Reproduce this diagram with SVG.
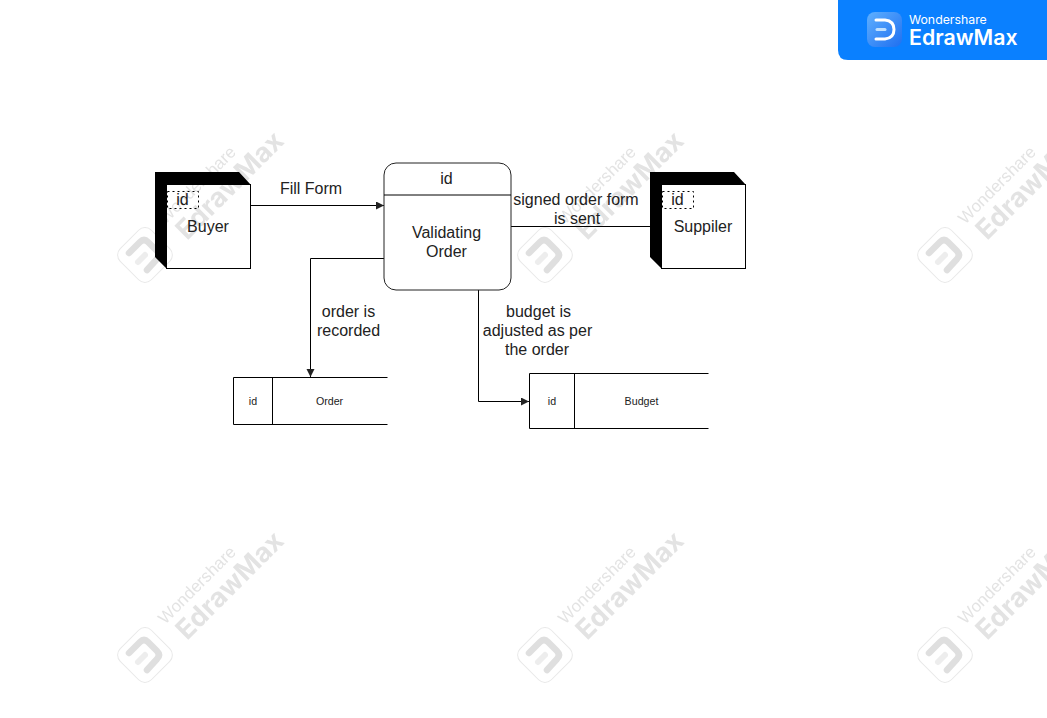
<svg xmlns="http://www.w3.org/2000/svg" width="1047" height="718" viewBox="0 0 1047 718">
<style>
text{font-family:"Liberation Sans",Arial,sans-serif;fill:#222;text-anchor:middle}
.t16{font-size:16px}
.t10{font-size:10.67px}
.wm{fill:#bdbdbd;text-anchor:start}
.line{fill:none;stroke:#000;stroke-width:1}
.box{fill:#fff;stroke:#000;stroke-width:1}
.dash{fill:none;stroke:#000;stroke-width:1;stroke-dasharray:2 3}
#watermarks{mix-blend-mode:multiply}
</style>
<defs>
<marker id="arrow" markerUnits="userSpaceOnUse" markerWidth="9" markerHeight="9" refX="8" refY="4" orient="auto"><path d="M0 0L8 4L0 8Z" fill="#222"/></marker>
<g id="wmark" opacity="0.42">
<rect x="123" y="233" width="44" height="44" rx="9" transform="rotate(-45 145 255)" fill="none" stroke="#c8c8c8" stroke-width="1"/>
<path d="M129 253L140 242Q144 238 148 242L157 251Q161 255 157 259L147 270" fill="none" stroke="#b4b4b4" stroke-width="6.500" stroke-linecap="round"/>
<path d="M138 262L145 255" fill="none" stroke="#d4d4d4" stroke-width="6" stroke-linecap="round"/>
<text class="wm" transform="translate(165 225) rotate(-45)" style="font-size:17px">Wondershare</text>
<text class="wm" transform="translate(187 241) rotate(-45)" style="font-family:Inter,'Liberation Sans',sans-serif;font-size:27px;font-weight:bold">EdrawMax</text>
</g>
<linearGradient id="logo" x1="0" y1="0" x2="1" y2="1"><stop offset="0" stop-color="#5fb0ff"/><stop offset="1" stop-color="#1f6ff0"/></linearGradient>
</defs>
<rect width="1047" height="718" fill="#fff"/>
<g id="badge">
<path d="M838 0H1047V60H848Q838 60 838 50Z" fill="#0a80ff"/>
<rect x="867" y="12" width="35" height="35" rx="8" fill="url(#logo)"/>
<path d="M876 20H885Q894 21 894 29.500Q894 38 885 39H876" fill="none" stroke="#fff" stroke-width="3" stroke-linecap="round"/>
<path d="M877 29.500H885" fill="none" stroke="#bfe0ff" stroke-width="3" stroke-linecap="round"/>
<text x="909" y="24" style="font-family:Inter,'Liberation Sans',sans-serif;font-size:12.300px;fill:#fff;text-anchor:start">Wondershare</text>
<text x="909" y="45" style="font-family:Inter,'Liberation Sans',sans-serif;font-size:21.300px;font-weight:600;fill:#fff;text-anchor:start">EdrawMax</text>
</g>
<g id="connectors">
<path class="line" d="M250.500 205.500H384" marker-end="url(#arrow)"/>
<path class="line" d="M511 226.500H650"/>
<path class="line" d="M384 258.500H310.500V377" marker-end="url(#arrow)"/>
<path class="line" d="M478.500 290V401.500H529" marker-end="url(#arrow)"/>
</g>
<g id="buyer">
<path d="M155 172H239L250.500 184.500H166.500V268.500L155 257Z" fill="#000"/>
<rect class="box" x="166.500" y="184.500" width="84" height="84"/>
<rect class="dash" x="167.500" y="191.500" width="31" height="17"/>
<text class="t16" x="182.500" y="205">id</text>
<text class="t16" x="208" y="232">Buyer</text>
</g>
<g id="validating-order">
<rect x="384" y="163" width="127" height="127" rx="12" fill="#fff" stroke="#222" stroke-width="1"/>
<path class="line" d="M384 195H511"/>
<text class="t16" x="446.500" y="184">id</text>
<text class="t16" x="446.500" y="238">Validating</text>
<text class="t16" x="446.500" y="257">Order</text>
</g>
<g id="supplier">
<path d="M650 172H734L745.500 184.500H661.500V268.500L650 257Z" fill="#000"/>
<rect class="box" x="661.500" y="184.500" width="84" height="84"/>
<rect class="dash" x="662.500" y="191.500" width="31" height="17"/>
<text class="t16" x="677.500" y="205">id</text>
<text class="t16" x="703" y="232">Suppiler</text>
</g>
<g id="order">
<path class="line" d="M387.500 377.500H233.500V424.500H387.500M272.500 377.500V424.500"/>
<text class="t10" x="253" y="405">id</text>
<text class="t10" x="329.500" y="405">Order</text>
</g>
<g id="budget">
<path class="line" d="M708.500 373.500H529.500V428.500H708.500M574.500 373.500V428.500"/>
<text class="t10" x="552" y="405">id</text>
<text class="t10" x="641.500" y="405">Budget</text>
</g>
<g id="labels">
<text class="t16" x="311" y="194">Fill Form</text>
<text class="t16" x="576" y="205">signed order form</text>
<text class="t16" x="577" y="224">is sent</text>
<text class="t16" x="348.500" y="317">order is</text>
<text class="t16" x="348.500" y="336">recorded</text>
<text class="t16" x="538.500" y="317">budget is</text>
<text class="t16" x="537.500" y="336">adjusted as per</text>
<text class="t16" x="537" y="355">the order</text>
</g>
<g id="watermarks">
<use href="#wmark"/><use href="#wmark" x="400"/><use href="#wmark" x="800"/>
<use href="#wmark" y="400"/><use href="#wmark" x="400" y="400"/><use href="#wmark" x="800" y="400"/>
</g>
</svg>
